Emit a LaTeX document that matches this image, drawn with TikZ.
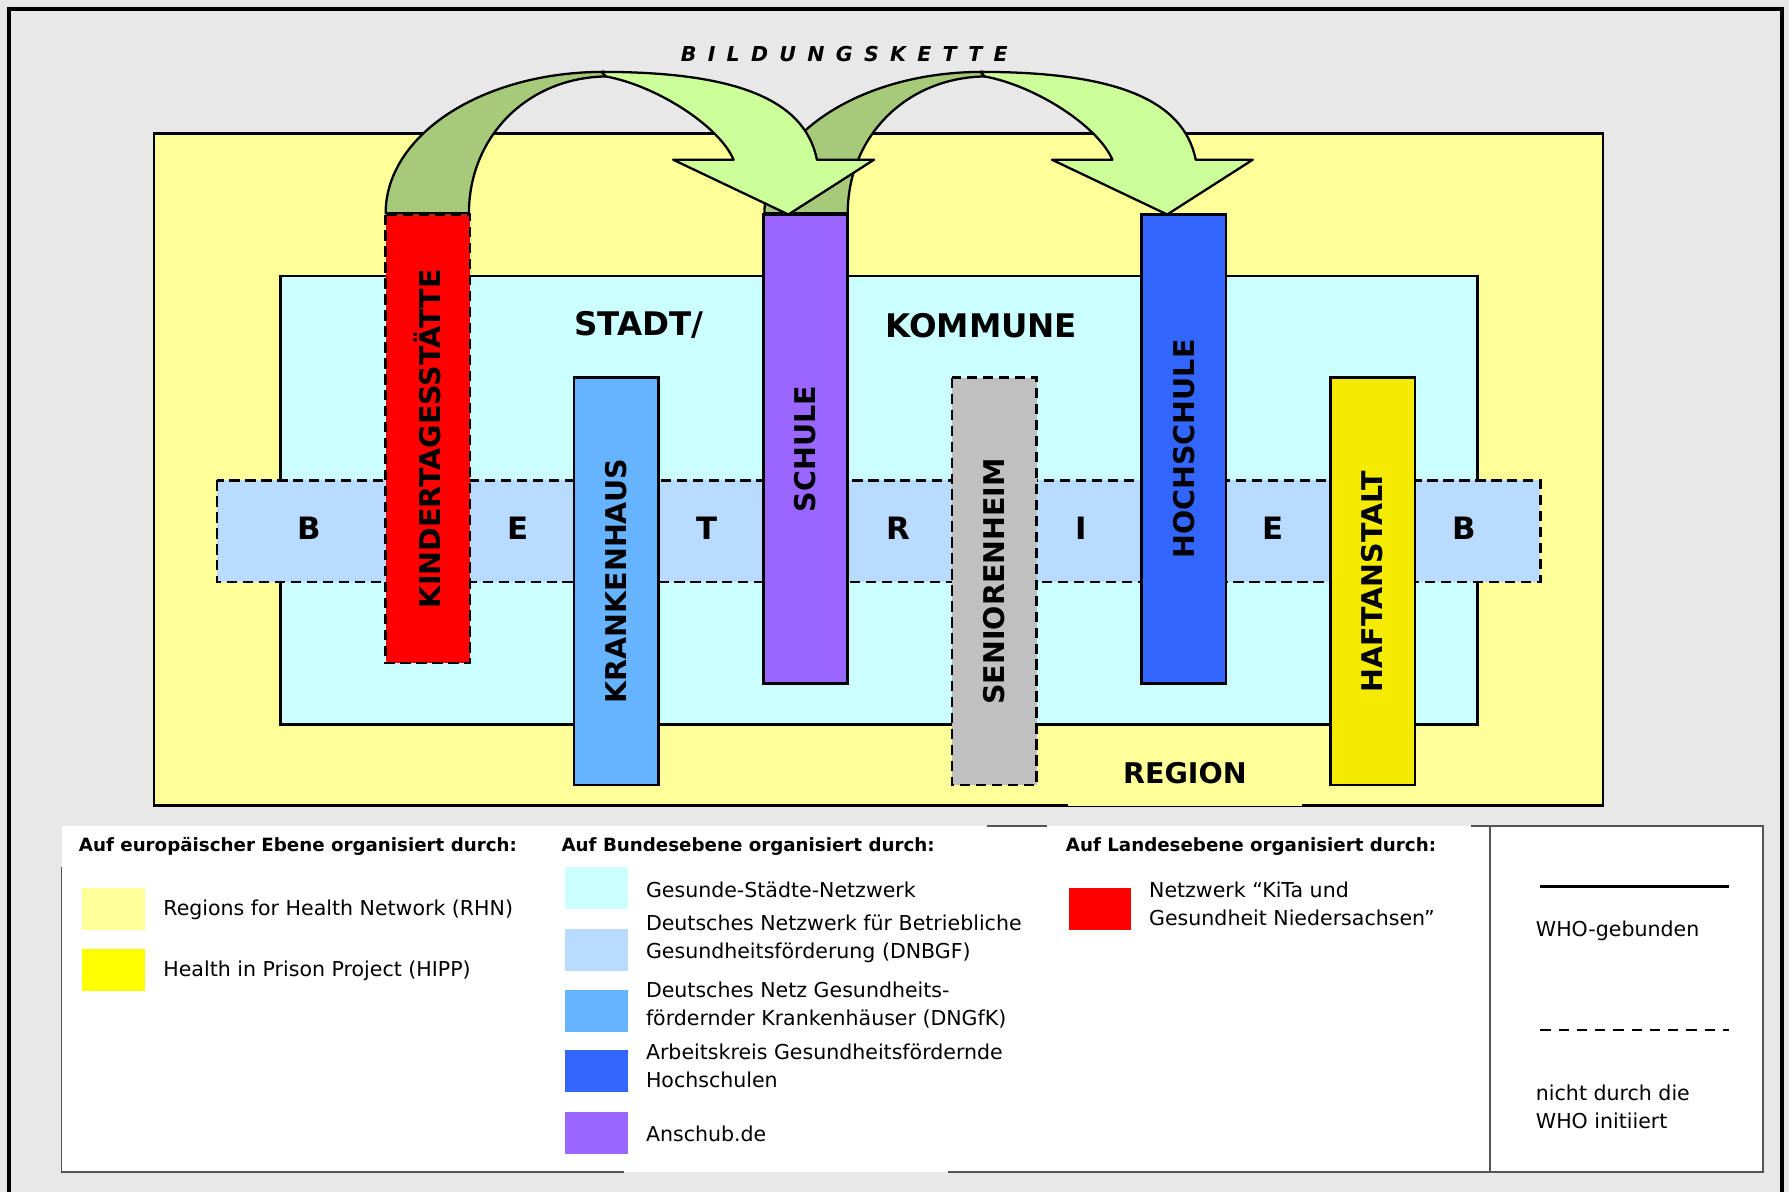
\documentclass[tikz,border=0pt]{standalone}
\usepackage{fontspec}
\setmainfont{DejaVu Sans}
\usepackage{tikz}
\usetikzlibrary{calc}
\definecolor{bg}{HTML}{E8E8E8}
\definecolor{regionyellow}{HTML}{FFFF99}
\definecolor{stadtcyan}{HTML}{CCFFFF}
\definecolor{betriebblue}{HTML}{B8DBFF}
\definecolor{kitared}{HTML}{FF0000}
\definecolor{krankblue}{HTML}{66B3FF}
\definecolor{schulviolet}{HTML}{9966FF}
\definecolor{seniorgray}{HTML}{C0C0C0}
\definecolor{hochblue}{HTML}{3366FF}
\definecolor{haftyellow}{HTML}{F5EB00}
\definecolor{hippyellow}{HTML}{FFFF00}
\definecolor{arrowdark}{HTML}{A6CA7A}
\definecolor{arrowlight}{HTML}{CCFF99}
\definecolor{legline}{HTML}{555555}
\tikzset{
  area/.style={draw=black, line width=2.2pt},
  dashline/.style={dash pattern=on 9pt off 5pt},
  bar/.style={draw=black, line width=2.2pt, rotate=90, minimum height=74pt, inner sep=0pt,
    font=\fontsize{25}{25}\selectfont\bfseries},
  biglab/.style={font=\fontsize{28.5}{28.5}\selectfont\bfseries},
  letter/.style={font=\fontsize{27}{27}\selectfont\bfseries},
  pfeil/.style={draw=black, line width=2pt, line join=round},
  swatch/.style={minimum width=55pt, minimum height=37pt, inner sep=0pt},
  leghead/.style={anchor=west, inner sep=0pt, font=\fontsize{16}{18}\selectfont\bfseries},
  legtext/.style={anchor=west, align=left, inner sep=0pt, font=\fontsize{18}{24.5}\selectfont},
  legframe/.style={draw=legline, line width=1.4pt}
}
% one link of the chain, shifted to the right by #1
\newcommand{\ChainArrow}[1]{%
  \begin{scope}[xshift=#1]
    \filldraw[pfeil, fill=arrowdark] (338,187) .. controls (338,118) and (423,63) .. (529,63)
      -- (531,67) .. controls (462,68) and (411,120) .. (411,187) -- cycle;
    \filldraw[pfeil, fill=arrowlight] (527,63) .. controls (640,63) and (705,85) .. (716,140)
      -- (766,140) -- (691,188) -- (590,140) -- (643,140)
      .. controls (630,110) and (575,75) .. (531,67) -- cycle;
  \end{scope}}

\begin{document}
\begin{tikzpicture}[x=1pt, y=-1pt]
  \useasboundingbox (0,0) rectangle (1568,1045);
  \fill[bg] (0,0) rectangle (1568,1045);
  \draw[line width=3pt] (8,1045) -- (8,8) -- (1562,8) -- (1562,1045);

  % region, city, workplace band
  \filldraw[area, fill=regionyellow] (135,117) rectangle (1405,706);
  \filldraw[area, fill=stadtcyan] (246,242) rectangle (1295,635);
  \filldraw[area, dashline, fill=betriebblue] (190,421) rectangle (1350,510);
  \foreach \lt/\x [count=\i] in {B/271, E/454, T/620, R/787, I/948, E/1116, B/1283}
    \node[letter] (betr\i) at (\x,463) {\lt};

  \node[biglab] (stadt) at (560,285) {STADT/};
  \node[biglab] (kommune) at (860,285) {KOMMUNE};
  \node[biglab, fill=regionyellow, minimum width=205pt, minimum height=56pt, inner sep=0pt,
    font=\fontsize{25}{25}\selectfont\bfseries] (region) at (1038.5,678) {REGION};

  % settings
  \node[bar, dashline, fill=kitared, minimum width=393pt] (kita) at (375,384.5) {KINDERTAGESSTÄTTE};
  \node[bar, fill=krankblue, minimum width=357pt] (krank) at (540,509.5) {KRANKENHAUS};
  \node[bar, fill=schulviolet, minimum width=411pt] (schule) at (706,393.5) {SCHULE};
  \node[bar, dashline, fill=seniorgray, minimum width=357pt] (senior) at (871.5,509.5) {SENIORENHEIM};
  \node[bar, fill=hochblue, minimum width=411pt] (hoch) at (1037.5,393.5) {HOCHSCHULE};
  \node[bar, fill=haftyellow, minimum width=357pt] (haft) at (1203,509.5) {HAFTANSTALT};

  \ChainArrow{332}
  \ChainArrow{0}
  \node[font=\fontsize{18}{18}\selectfont\bfseries\itshape\addfontfeatures{LetterSpace=55}] (kette) at (740,47) {BILDUNGSKETTE};

  % legend
  \fill[white] (54,724) rectangle (1545,1027);
  \draw[legframe] (54,760) -- (54,1027) -- (547,1027);
  \draw[legframe] (831,1027) -- (1545,1027) -- (1545,724) -- (1289,724);
  \draw[legframe] (865,724) -- (918,724);
  \draw[legframe] (1306,724) -- (1306,1027);

  \node[leghead] (headeu) at (69,742) {Auf europäischer Ebene organisiert durch:};
  \node[swatch, fill=regionyellow] (swrhn) at (99.5,796.5) {};
  \node[legtext] (rhn) at (143,797) {Regions for Health Network (RHN)};
  \node[swatch, fill=hippyellow] (swhipp) at (99.5,850) {};
  \node[legtext] (hipp) at (143,851) {Health in Prison Project (HIPP)};

  \node[leghead] (headbund) at (492,742) {Auf Bundesebene organisiert durch:};
  \node[swatch, fill=stadtcyan] (swgsn) at (522.5,778.5) {};
  \node[legtext] (gsn) at (566,780) {Gesunde-Städte-Netzwerk};
  \node[swatch, fill=betriebblue] (swdnbgf) at (522.5,832.5) {};
  \node[legtext] (dnbgf) at (566,822.5) {Deutsches Netzwerk für Betriebliche\\Gesundheitsförderung (DNBGF)};
  \node[swatch, fill=krankblue] (swdngfk) at (522.5,886) {};
  \node[legtext] (dngfk) at (566,881) {Deutsches Netz Gesundheits-\\fördernder Krankenhäuser (DNGfK)};
  \node[swatch, fill=hochblue] (swhoch) at (522.5,939) {};
  \node[legtext] (akhoch) at (566,934) {Arbeitskreis Gesundheitsfördernde\\Hochschulen};
  \node[swatch, fill=schulviolet] (swanschub) at (522.5,993) {};
  \node[legtext] (anschub) at (566,994) {Anschub.de};

  \node[leghead] (headland) at (934,742) {Auf Landesebene organisiert durch:};
  \node[swatch, minimum width=54pt, fill=kitared] (swkita) at (964,796.5) {};
  \node[legtext] (kitanetz) at (1007,792) {Netzwerk “KiTa und\\Gesundheit Niedersachsen”};

  \coordinate (solidA) at (1350,777);
  \coordinate (solidB) at (1515,777);
  \coordinate (dashA) at (1350,903);
  \coordinate (dashB) at (1515,903);
  \draw[line width=2pt] (solidA) -- (solidB);
  \draw[line width=2pt, dash pattern=on 9pt off 7pt] (dashA) -- (dashB);
  \node[legtext] (who) at (1346,816) {WHO-gebunden};
  \node[legtext] (nichtwho) at (1346,970) {nicht durch die\\WHO initiiert};
\end{tikzpicture}
\end{document}
